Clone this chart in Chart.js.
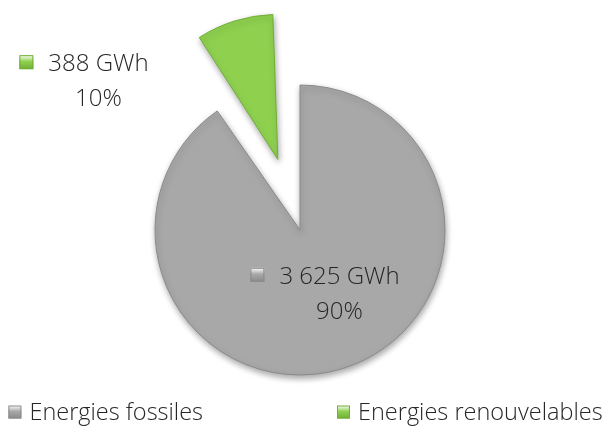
<!DOCTYPE html>
<html>
<head>
<meta charset="utf-8">
<script src="https://cdn.jsdelivr.net/npm/chart.js@4"></script>
<style>
  html, body { margin: 0; padding: 0; background: #fff; }
  #wrap { width: 611px; height: 426px; }
</style>
</head>
<body>
<div id="wrap"><canvas id="energyPie" width="611" height="426"></canvas></div>
<script>
// Production d'électricité par source (GWh)
const categories = ['Energies fossiles', 'Energies renouvelables'];
const valuesGWh = [3625, 388];
const valueLabels = ['3 625 GWh', '388 GWh'];
const percentLabels = ['90%', '10%'];
const sliceColors = ['#a8a8a8', '#8fd14f'];
const sliceEdges = ['#8a8a8a', '#6fae35'];

const FONT = '"Open Sans", "DejaVu Sans", sans-serif';
const EXPLODE = 74; // px the green slice is pulled out

// soft drop shadow under the slices (bevel look)
// Chart.js grows the radius of a narrow exploded slice, so shrink it back here
const shadowPlugin = {
    id: 'sliceShadow',
    beforeDatasetsDraw(chart) {
        const ctx = chart.ctx;
        chart.getDatasetMeta(0).data.forEach(arc => {
            const off = (arc.options.offset || 0) / 4;
            const circ = arc.endAngle - arc.startAngle;
            const fix = 1 - Math.sin(Math.min(Math.PI, circ));
            arc._origR = arc.outerRadius;
            arc.outerRadius = arc.outerRadius - off * fix;
        });
        ctx.save();
        ctx.shadowColor = 'rgba(0,0,0,0.35)';
        ctx.shadowBlur = 6;
        ctx.shadowOffsetX = 1;
        ctx.shadowOffsetY = 3;
    },
    afterDatasetsDraw(chart) {
        chart.ctx.restore();
        chart.getDatasetMeta(0).data.forEach(arc => {
            arc.outerRadius = arc._origR;
        });
    }
};

// value + percent labels with a small colour key, like Excel data labels
const dataLabelPlugin = {
    id: 'sliceLabels',
    afterDatasetsDraw(chart) {
        const ctx = chart.ctx;
        const meta = chart.getDatasetMeta(0);
        // r: fraction of radius, a: degrees clockwise from top
        const place = [{ r: 0.5, a: 147 }, { r: 1.74, a: 307 }];
        meta.data.forEach((arc, i) => {
            const p = arc.getProps(['x', 'y', 'outerRadius'], true);
            const ang = place[i].a * Math.PI / 180;
            const cx = p.x + Math.sin(ang) * p.outerRadius * place[i].r;
            const cy = p.y - Math.cos(ang) * p.outerRadius * place[i].r;

            ctx.save();
            ctx.font = '300 24px ' + FONT;
            ctx.fillStyle = '#262626';
            ctx.textAlign = 'center';
            ctx.textBaseline = 'alphabetic';
            const line1 = cy - 7;
            const line2 = cy + 28;
            ctx.fillText(valueLabels[i], cx, line1);
            ctx.fillText(percentLabels[i], cx, line2);

            const w = ctx.measureText(valueLabels[i]).width;
            const sx = cx - w / 2 - 29;
            drawKey(ctx, sx, line1 - 16, 14, i);
            ctx.restore();
        });
    }
};

function drawKey(ctx, x, y, s, i) {
    const g = ctx.createLinearGradient(x, y, x, y + s);
    g.addColorStop(0, '#ffffff');
    g.addColorStop(0.45, sliceColors[i]);
    g.addColorStop(1, sliceEdges[i]);
    ctx.fillStyle = g;
    ctx.fillRect(x, y, s, s);
    ctx.strokeStyle = sliceEdges[i];
    ctx.lineWidth = 1;
    ctx.strokeRect(x + 0.5, y + 0.5, s - 1, s - 1);
}

// bottom legend, items spread like the original
const legendPlugin = {
    id: 'wideLegend',
    afterDraw(chart) {
        const ctx = chart.ctx;
        ctx.save();
        ctx.font = '300 23.5px ' + FONT;
        ctx.textBaseline = 'middle';
        ctx.textAlign = 'left';
        const box = 13, gapText = 8, gapItems = 134;
        const widths = categories.map(t => box + gapText + ctx.measureText(t).width);
        const total = widths.reduce((a, b) => a + b, 0) + gapItems * (widths.length - 1);
        let x = (chart.width - total) / 2;
        const y = 412;
        categories.forEach((t, i) => {
            drawKey(ctx, x, y - box / 2, box, i);
            ctx.fillStyle = '#262626';
            ctx.fillText(t, x + box + gapText, y + 1);
            x += widths[i] + gapItems;
        });
        ctx.restore();
    }
};

new Chart(document.getElementById('energyPie'), {
    type: 'pie',
    data: {
        labels: categories,
        datasets: [{
            data: valuesGWh,
            backgroundColor: sliceColors,
            borderColor: sliceEdges,
            borderWidth: 1,
            offset: [0, EXPLODE * 4],
            radius: 145,
            clip: false
        }]
    },
    options: {
        responsive: false,
        animation: false,
        devicePixelRatio: 1,
        cutout: '0%',
        layout: { padding: { top: 94, bottom: 60, left: 0, right: 11 } },
        plugins: {
            legend: { display: false },
            tooltip: { enabled: false }
        }
    },
    plugins: [shadowPlugin, dataLabelPlugin, legendPlugin]
});
</script>
</body>
</html>
